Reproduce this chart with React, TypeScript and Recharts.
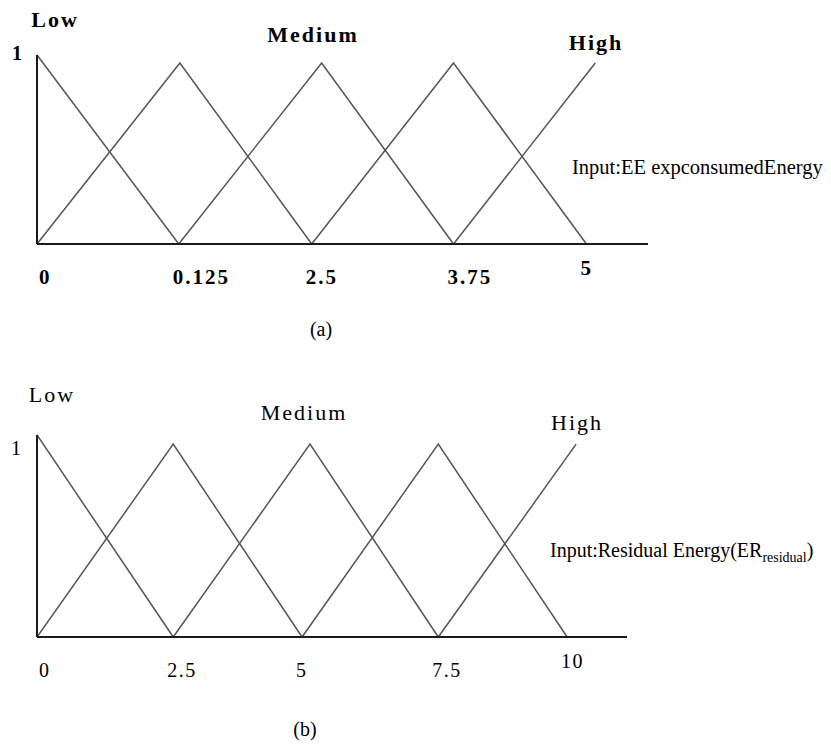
import React from 'react';
import { LineChart, Line, XAxis, YAxis } from 'recharts';

// ---------- Chart (a): Input EE expconsumedEnergy ----------
const tickValuesA = [0, 1.29, 2.5, 3.79, 5];
const tickLabelsA = ['0', '0.125', '2.5', '3.75', '5'];
const domainA = [0, 5.56];
const lowA = [{ x: 0, y: 1 }, { x: 1.29, y: 0 }];
const med1A = [{ x: 0, y: 0 }, { x: 1.3, y: 0.958 }, { x: 2.5, y: 0 }];
const med2A = [{ x: 1.29, y: 0 }, { x: 2.59, y: 0.958 }, { x: 3.79, y: 0 }];
const med3A = [{ x: 2.5, y: 0 }, { x: 3.79, y: 0.958 }, { x: 5, y: 0 }];
const highA = [{ x: 3.79, y: 0 }, { x: 5.08, y: 0.958 }];

// ---------- Chart (b): Input Residual Energy ----------
const tickValuesB = [0, 2.57, 5, 7.57, 10];
const tickLabelsB = ['0', '2.5', '5', '7.5', '10'];
const domainB = [0, 11.13];
const lowB = [{ x: 0, y: 1 }, { x: 2.57, y: 0 }];
const med1B = [{ x: 0, y: 0 }, { x: 2.57, y: 0.955 }, { x: 5, y: 0 }];
const med2B = [{ x: 2.57, y: 0 }, { x: 5.15, y: 0.955 }, { x: 7.57, y: 0 }];
const med3B = [{ x: 5, y: 0 }, { x: 7.57, y: 0.955 }, { x: 10, y: 0 }];
const highB = [{ x: 7.57, y: 0 }, { x: 10.17, y: 0.955 }];

const FONT = '"Liberation Serif", "Times New Roman", serif';
const LINE = '#555';
const AXIS = '#1a1a1a';

function makeXTick(values: number[], labels: string[], weight: string, size: number, spacing: number) {
  return (props: any) => {
    const { x, payload } = props;
    let i = values.indexOf(payload.value);
    if (i < 0) i = values.findIndex((v) => Math.abs(v - payload.value) < 1e-6);
    const last = i === values.length - 1;
    return (
      <text
        x={x}
        y={props.baseY}
        dx={i === 0 ? 2 : -6}
        dy={last ? 24 : 33}
        textAnchor="start"
        dominantBaseline="central"
        fontFamily={FONT}
        fontWeight={weight}
        fontSize={size}
        letterSpacing={spacing}
        fill="#000"
      >
        {labels[i]}
      </text>
    );
  };
}

function makeYTick(weight: string, dx: number, dy: number) {
  return (props: any) => {
    const { y } = props;
    return (
      <text
        x={props.baseX}
        y={y}
        dx={dx}
        dy={dy}
        textAnchor="end"
        dominantBaseline="central"
        fontFamily={FONT}
        fontWeight={weight}
        fontSize={20}
        fill="#000"
      >
        1
      </text>
    );
  };
}

const lineProps = {
  type: 'linear' as const,
  dataKey: 'y',
  stroke: LINE,
  strokeWidth: 1.5,
  dot: false,
  activeDot: false,
  isAnimationActive: false,
};

function Label({ x, y, children, size, weight, spacing = 0, anchor = 'middle' }: any) {
  return (
    <div
      style={{
        position: 'absolute',
        left: x,
        top: y,
        transform: anchor === 'middle' ? 'translate(-50%, -50%)' : 'translate(0, -50%)',
        whiteSpace: 'nowrap',
        lineHeight: 1,
        fontFamily: FONT,
        fontSize: size,
        fontWeight: weight,
        letterSpacing: spacing,
        color: '#000',
      }}
    >
      {children}
    </div>
  );
}

function FuzzyChart({ top, plotTop, plotBottom, plotRight, domain, ticks, labels, weight, tickSize, tickSpacing, yTickDy, yTickDx, series }: any) {
  const H = 300;
  const axisH = 30;
  const axisW = 30;
  const plotLeft = 37;
  const XT = makeXTick(ticks, labels, weight, tickSize, tickSpacing);
  const YT = makeYTick(weight, yTickDx, yTickDy);
  return (
    <div style={{ position: 'absolute', left: 0, top }}>
      <LineChart
        width={831}
        height={H}
        margin={{ top: plotTop, right: 831 - plotRight, bottom: H - plotBottom - axisH, left: plotLeft - axisW }}
      >
        <XAxis
          type="number"
          dataKey="x"
          domain={domain}
          ticks={ticks}
          allowDataOverflow
          height={axisH}
          tickLine={false}
          tickSize={0}
          tickMargin={0}
          axisLine={{ stroke: AXIS, strokeWidth: 2 }}
          tick={(p: any) => <XT {...p} baseY={plotBottom} />}
          interval={0}
        />
        <YAxis
          type="number"
          domain={[0, 1]}
          ticks={[1]}
          width={axisW}
          tickLine={false}
          tickSize={0}
          tickMargin={0}
          axisLine={{ stroke: AXIS, strokeWidth: 2 }}
          tick={(p: any) => <YT {...p} baseX={plotLeft} />}
        />
        {series.map((d: any, i: number) => (
          <Line key={i} {...lineProps} data={d} />
        ))}
      </LineChart>
    </div>
  );
}

export default function App() {
  return (
    <div style={{ position: 'absolute', left: 0, top: 0, width: 831, height: 749, background: '#fff', overflow: 'hidden' }}>
      <FuzzyChart
        top={0}
        plotTop={55}
        plotBottom={244}
        plotRight={648}
        domain={domainA}
        ticks={tickValuesA}
        labels={tickLabelsA}
        weight="bold"
        tickSize={21}
        tickSpacing={2}
        yTickDx={-15}
        yTickDy={-2}
        series={[lowA, med1A, med2A, med3A, highA]}
      />
      <FuzzyChart
        top={380}
        plotTop={55}
        plotBottom={257}
        plotRight={627}
        domain={domainB}
        ticks={tickValuesB}
        labels={tickLabelsB}
        weight="normal"
        tickSize={20}
        tickSpacing={1.5}
        yTickDx={-16}
        yTickDy={13}
        series={[lowB, med1B, med2B, med3B, highB]}
      />

      {/* Chart (a) annotations */}
      <Label x={55} y={20} size={22} weight="bold" spacing={2}>Low</Label>
      <Label x={313} y={35} size={22} weight="bold" spacing={2}>Medium</Label>
      <Label x={596} y={43} size={22} weight="bold" spacing={2}>High</Label>
      <Label x={572} y={167} size={20.5} weight="normal" anchor="start">Input:EE expconsumedEnergy</Label>
      <Label x={321} y={329} size={20} weight="normal">(a)</Label>

      {/* Chart (b) annotations */}
      <Label x={52} y={395} size={22} weight="normal" spacing={2}>Low</Label>
      <Label x={304} y={413} size={22} weight="normal" spacing={2}>Medium</Label>
      <Label x={577} y={423} size={22} weight="normal" spacing={2}>High</Label>
      <Label x={550} y={552} size={20} weight="normal" anchor="start">
        Input:Residual Energy(ER<span style={{ fontSize: 14, verticalAlign: 'sub' }}>residual</span>)
      </Label>
      <Label x={305} y={729} size={20} weight="normal">(b)</Label>
    </div>
  );
}
